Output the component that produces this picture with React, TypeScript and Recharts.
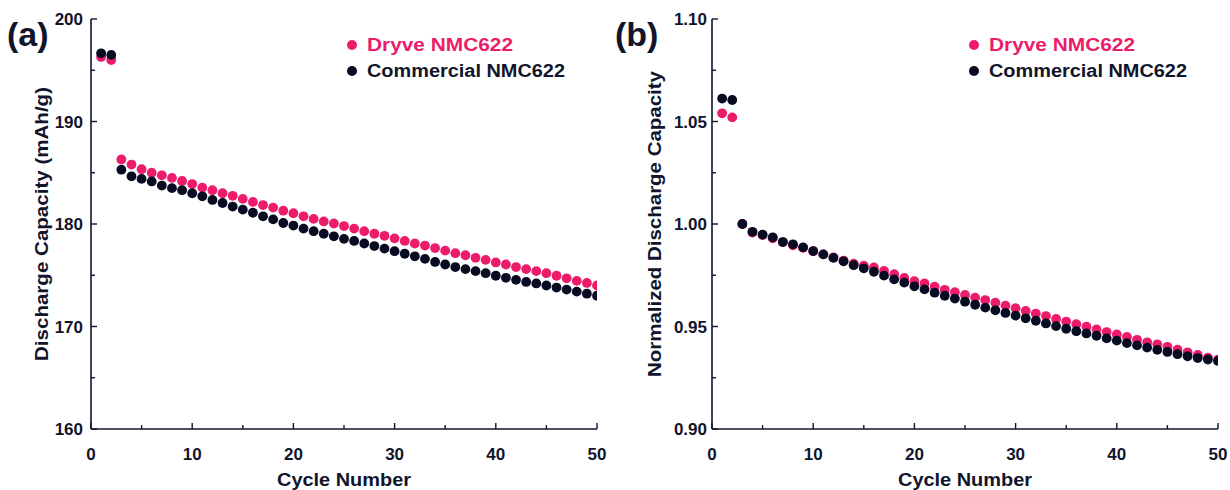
import React from 'react';
import { ScatterChart, Scatter, XAxis, YAxis, Label } from 'recharts';

// cycle index 1..50
const cycles = [
  1, 2, 3, 4, 5, 6, 7, 8, 9, 10, 11, 12, 13, 14, 15, 16, 17, 18, 19, 20, 21, 22, 23, 24, 25,
  26, 27, 28, 29, 30, 31, 32, 33, 34, 35, 36, 37, 38, 39, 40, 41, 42, 43, 44, 45, 46, 47, 48, 49, 50,
];

// (a) discharge capacity, mAh/g
const dryveCapacity = [
  196.3, 196.0, 186.3, 185.8, 185.35, 185.0, 184.75, 184.5, 184.2, 183.9,
  183.55, 183.3, 183.0, 182.75, 182.45, 182.15, 181.85, 181.6, 181.3, 181.05,
  180.75, 180.5, 180.25, 180.05, 179.8, 179.55, 179.3, 179.05, 178.85, 178.6,
  178.35, 178.1, 177.9, 177.65, 177.4, 177.15, 176.95, 176.7, 176.5, 176.25,
  176.05, 175.8, 175.6, 175.4, 175.2, 174.95, 174.7, 174.45, 174.25, 174.0,
];
const commercialCapacity = [
  196.65, 196.5, 185.3, 184.65, 184.4, 184.15, 183.75, 183.5, 183.3, 183.0,
  182.7, 182.35, 182.05, 181.7, 181.4, 181.1, 180.75, 180.45, 180.1, 179.85,
  179.55, 179.3, 179.05, 178.8, 178.55, 178.35, 178.1, 177.85, 177.6, 177.35,
  177.1, 176.85, 176.6, 176.3, 176.05, 175.8, 175.6, 175.4, 175.2, 174.95,
  174.75, 174.55, 174.35, 174.2, 174.0, 173.8, 173.6, 173.4, 173.2, 173.0,
];

// (b) normalized discharge capacity
const dryveNormalized = [
  1.054, 1.052, 1.0, 0.9958, 0.9946, 0.993, 0.9912, 0.9896, 0.9884, 0.9867,
  0.9852, 0.9837, 0.9821, 0.9806, 0.9797, 0.9788, 0.9771, 0.9755, 0.9737, 0.9721,
  0.971, 0.9694, 0.9679, 0.9667, 0.9654, 0.9641, 0.9629, 0.9616, 0.9602, 0.9589,
  0.9576, 0.9563, 0.9551, 0.9537, 0.9524, 0.9511, 0.9499, 0.9486, 0.9473, 0.9461,
  0.9449, 0.9435, 0.9423, 0.9413, 0.9401, 0.9387, 0.9374, 0.9361, 0.9348, 0.9338,
];
const commercialNormalized = [
  1.0612, 1.0605, 1.0, 0.9962, 0.9948, 0.9935, 0.9912, 0.9901, 0.9886, 0.9868,
  0.9852, 0.9835, 0.9818, 0.9799, 0.9784, 0.9767, 0.9748, 0.973, 0.9714, 0.9696,
  0.9681, 0.9665, 0.965, 0.9636, 0.9621, 0.9606, 0.9592, 0.9579, 0.9566, 0.9553,
  0.954, 0.9528, 0.9515, 0.9502, 0.9489, 0.9477, 0.9466, 0.9455, 0.9442, 0.9431,
  0.9419, 0.9408, 0.9397, 0.9386, 0.9376, 0.9365, 0.9355, 0.9346, 0.9339, 0.9332,
];

const cycleTicks = [0, 5, 10, 15, 20, 25, 30, 35, 40, 45, 50];
const capacityTicks = [160, 165, 170, 175, 180, 185, 190, 195, 200];
const normalizedTicks = [0.9, 0.925, 0.95, 0.975, 1.0, 1.025, 1.05, 1.075, 1.1];

const seriesNames = ['Dryve NMC622', 'Commercial NMC622'];

const FONT = '"Liberation Sans", Arial, sans-serif';
const INK = '#11152b';
const PINK = '#ec1c6b';
const NAVY = '#070c22';
const SPINE = 1.6;

const toPoints = (vals: number[]) => cycles.map((c, i) => ({ cycle: c, value: vals[i] }));

const isMajorCycle = (v: number) => v % 10 === 0;

const BottomTick = (props: any) => {
  const { x, y, payload } = props;
  const major = isMajorCycle(payload.value);
  return (
    <g>
      <line x1={x} x2={x} y1={y} y2={y - (major ? 6 : 4)} stroke={INK} strokeWidth={1.4} />
      {major && (
        <text x={x} y={y + 31} textAnchor="middle" fontFamily={FONT} fontWeight="bold" fontSize={17} fill={INK}>
          {payload.value}
        </text>
      )}
    </g>
  );
};

const TopTick = (props: any) => {
  const { x, y, payload } = props;
  const major = isMajorCycle(payload.value);
  return <line x1={x} x2={x} y1={y} y2={y + (major ? 6 : 4)} stroke={INK} strokeWidth={1.4} />;
};

const makeLeftTick = (isMajor: (v: number) => boolean, fmt: (v: number) => string, gap: number) => (props: any) => {
  const { x, y, payload } = props;
  const major = isMajor(payload.value);
  return (
    <g>
      <line x1={x} x2={x + (major ? 6 : 4)} y1={y} y2={y} stroke={INK} strokeWidth={1.4} />
      {major && (
        <text x={x - gap} y={y + 6} textAnchor="end" fontFamily={FONT} fontWeight="bold" fontSize={17} fill={INK}>
          {fmt(payload.value)}
        </text>
      )}
    </g>
  );
};

const makeRightTick = (isMajor: (v: number) => boolean) => (props: any) => {
  const { x, y, payload } = props;
  const major = isMajor(payload.value);
  return <line x1={x} x2={x - (major ? 6 : 4)} y1={y} y2={y} stroke={INK} strokeWidth={1.4} />;
};

// titles in the source are set in a wide bold face; stretch Arial to the same run length
const XTitle = (props: any) => {
  const vb = props.viewBox || {};
  return (
    <text
      x={vb.x + vb.width / 2}
      y={vb.y + 57}
      textAnchor="middle"
      textLength={134}
      lengthAdjust="spacingAndGlyphs"
      fontFamily={FONT}
      fontWeight="bold"
      fontSize={18}
      fill={INK}
    >
      Cycle Number
    </text>
  );
};

const makeYTitle = (text: string, cx: number, len: number) => (props: any) => {
  const vb = props.viewBox || {};
  const cy = vb.y + vb.height / 2;
  return (
    <text
      x={cx}
      y={cy}
      transform={`rotate(-90 ${cx} ${cy})`}
      textAnchor="middle"
      dominantBaseline="central"
      textLength={len}
      lengthAdjust="spacingAndGlyphs"
      fontFamily={FONT}
      fontWeight="bold"
      fontSize={18}
      fill={INK}
    >
      {text}
    </text>
  );
};

const dot = (color: string) => (props: any) => <circle cx={props.cx} cy={props.cy} r={4.9} fill={color} />;

type PanelProps = {
  width: number;
  plotLeft: number;
  plotRight: number;
  yDomain: [number, number];
  yTicks: number[];
  isMajorY: (v: number) => boolean;
  fmtY: (v: number) => string;
  tickGap: number;
  dryve: number[];
  commercial: number[];
  yLabel: string;
  yLabelX: number;
  yLabelLen: number;
  tag: string;
  tagX: number;
  legendX: number;
};

function Panel(p: PanelProps) {
  return (
    <div style={{ position: 'relative', width: p.width, height: 490 }}>
      <ScatterChart width={p.width} height={490} margin={{ top: 19, right: p.plotRight, bottom: 0, left: 0 }}>
        <XAxis
          xAxisId="bottom"
          dataKey="cycle"
          type="number"
          domain={[0, 50]}
          allowDataOverflow
          ticks={cycleTicks}
          interval={0}
          height={61}
          tickSize={0}
          tickMargin={0}
          tickLine={false}
          tick={<BottomTick />}
          axisLine={{ stroke: INK, strokeWidth: SPINE }}
        >
          <Label content={<XTitle />} />
        </XAxis>
        <XAxis
          xAxisId="top"
          orientation="top"
          dataKey="cycle"
          type="number"
          domain={[0, 50]}
          allowDataOverflow
          ticks={cycleTicks}
          interval={0}
          height={0}
          tickSize={0}
          tickMargin={0}
          tickLine={false}
          tick={<TopTick />}
          axisLine={{ stroke: INK, strokeWidth: SPINE }}
        />
        <YAxis
          yAxisId="left"
          dataKey="value"
          type="number"
          domain={p.yDomain}
          allowDataOverflow
          ticks={p.yTicks}
          interval={0}
          width={p.plotLeft}
          tickSize={0}
          tickMargin={0}
          tickLine={false}
          tick={makeLeftTick(p.isMajorY, p.fmtY, p.tickGap)}
          axisLine={{ stroke: INK, strokeWidth: SPINE }}
        >
          <Label content={makeYTitle(p.yLabel, p.yLabelX, p.yLabelLen)} />
        </YAxis>
        <YAxis
          yAxisId="right"
          orientation="right"
          dataKey="value"
          type="number"
          domain={p.yDomain}
          allowDataOverflow
          ticks={p.yTicks}
          interval={0}
          width={0}
          tickSize={0}
          tickMargin={0}
          tickLine={false}
          tick={makeRightTick(p.isMajorY)}
          axisLine={{ stroke: INK, strokeWidth: SPINE }}
        />
        <Scatter
          name={seriesNames[0]}
          xAxisId="bottom"
          yAxisId="left"
          data={toPoints(p.dryve)}
          shape={dot(PINK)}
          isAnimationActive={false}
        />
        <Scatter
          name={seriesNames[1]}
          xAxisId="bottom"
          yAxisId="left"
          data={toPoints(p.commercial)}
          shape={dot(NAVY)}
          isAnimationActive={false}
        />
      </ScatterChart>
      <svg width={p.width} height={490} style={{ position: 'absolute', left: 0, top: 0, pointerEvents: 'none' }}>
        <text x={p.tagX} y={46} fontFamily={FONT} fontWeight="bold" fontSize={34} fill={INK}>
          {p.tag}
        </text>
        <circle cx={p.legendX} cy={45} r={5} fill={PINK} />
        <text
          x={p.legendX + 15}
          y={51}
          textLength={146}
          lengthAdjust="spacingAndGlyphs"
          fontFamily={FONT}
          fontWeight="bold"
          fontSize={18}
          fill={PINK}
        >
          {seriesNames[0]}
        </text>
        <circle cx={p.legendX} cy={71} r={5} fill={NAVY} />
        <text
          x={p.legendX + 15}
          y={77}
          textLength={198}
          lengthAdjust="spacingAndGlyphs"
          fontFamily={FONT}
          fontWeight="bold"
          fontSize={18}
          fill={INK}
        >
          {seriesNames[1]}
        </text>
      </svg>
    </div>
  );
}

export default function App() {
  return (
    <div style={{ position: 'absolute', left: 0, top: 0, width: 1230, height: 490, background: '#fff', display: 'flex' }}>
      <Panel
        width={615}
        plotLeft={91}
        plotRight={18}
        yDomain={[160, 200]}
        yTicks={capacityTicks}
        isMajorY={(v) => v % 10 === 0}
        fmtY={(v) => String(v)}
        tickGap={8}
        dryve={dryveCapacity}
        commercial={commercialCapacity}
        yLabel="Discharge Capacity (mAh/g)"
        yLabelX={42}
        yLabelLen={274}
        tag="(a)"
        tagX={7}
        legendX={352}
      />
      <Panel
        width={615}
        plotLeft={97}
        plotRight={12}
        yDomain={[0.9, 1.1]}
        yTicks={normalizedTicks}
        isMajorY={(v) => Math.round(v * 1000) % 50 === 0}
        fmtY={(v) => v.toFixed(2)}
        tickGap={5}
        dryve={dryveNormalized}
        commercial={commercialNormalized}
        yLabel="Normalized Discharge Capacity"
        yLabelX={40}
        yLabelLen={306}
        tag="(b)"
        tagX={0}
        legendX={359}
      />
    </div>
  );
}
